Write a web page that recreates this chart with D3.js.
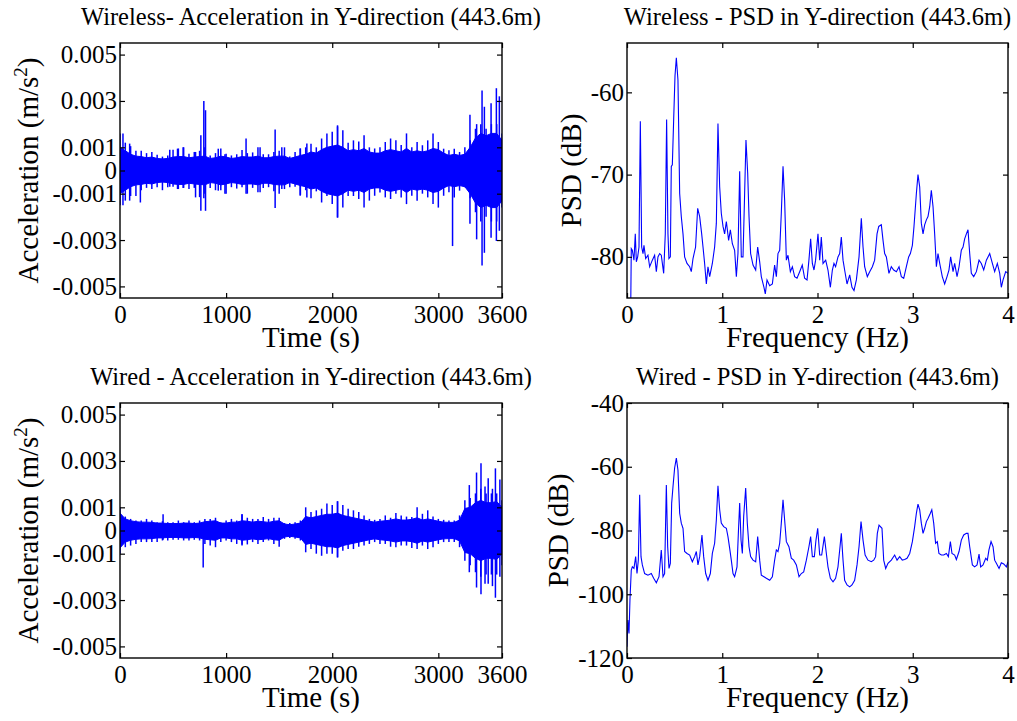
<!DOCTYPE html>
<html>
<head>
<meta charset="utf-8">
<script src="https://cdn.jsdelivr.net/npm/d3@7"></script>
<style>
  body { margin: 0; background: #fff; }
  svg text { font-family: "Liberation Serif", "Times New Roman", serif; fill: #000; }
</style>
</head>
<body>
<div id="chart"></div>
<script>
// sample times (s) for the acceleration envelopes
var accTime = [0,50,100,150,200,250,300,350,400,450,500,550,600,650,700,750,800,850,900,950,
  1000,1050,1100,1150,1200,1250,1300,1350,1400,1450,1500,1550,1600,1650,1700,1750,1800,1850,1900,1950,
  2000,2050,2100,2150,2200,2250,2300,2350,2400,2450,2500,2550,2600,2650,2700,2750,2800,2850,2900,2950,
  3000,3050,3100,3150,3200,3250,3300,3350,3400,3450,3500,3550,3600];

// all acceleration values in 1e-3 m/s^2
// half-width of the solid band
var wirelessCore = [1.0,0.85,0.7,0.62,0.6,0.55,0.58,0.52,0.5,0.52,0.58,0.6,0.6,0.55,0.58,0.6,0.62,0.52,0.55,0.62,
  0.58,0.52,0.55,0.6,0.58,0.58,0.62,0.55,0.55,0.6,0.62,0.62,0.52,0.58,0.65,0.7,0.8,0.75,0.9,1.0,
  1.05,1.1,1.0,0.85,0.9,0.85,0.95,0.8,0.75,0.75,0.85,0.9,0.85,0.8,0.95,0.8,0.85,0.8,0.85,0.95,
  0.9,0.75,0.65,0.7,0.65,0.7,1.0,1.4,1.6,1.5,1.6,1.6,1.3];
// peak excursions at each sample
var wirelessHi = [1.6,1.2,1.05,0.85,0.85,0.75,0.8,0.68,0.6,0.65,0.9,0.95,1.0,0.72,0.8,0.85,1.0,0.65,0.75,0.95,
  0.72,0.65,0.7,0.88,0.75,0.78,1.0,0.7,0.7,0.8,0.85,1.0,0.6,0.8,0.95,1.0,1.15,1.0,1.38,1.6,
  1.67,1.95,1.74,1.2,1.3,1.25,1.52,1.0,0.95,1.0,1.23,1.38,1.3,1.1,1.6,1.0,1.23,1.09,1.3,1.6,
  1.23,0.94,0.87,0.94,0.8,1.0,1.3,1.8,2.0,1.8,2.0,2.0,1.6];
var wirelessLo = [-1.5,-1.3,-1.1,-1.1,-0.85,-0.75,-0.8,-0.72,-0.85,-0.72,-0.7,-0.8,-0.75,-0.8,-0.75,-1.15,-1.0,-0.75,-0.85,-0.85,
  -1.0,-0.72,-0.78,-0.72,-1.0,-0.75,-0.94,-0.75,-0.72,-0.9,-1.0,-0.8,-0.72,-0.7,-1.05,-0.85,-1.2,-0.9,-1.38,-1.1,
  -1.45,-2.03,-1.6,-1.1,-1.1,-1.23,-1.6,-1.3,-1.09,-0.95,-1.16,-1.23,-1.0,-1.16,-1.45,-1.09,-1.3,-1.0,-1.16,-1.45,
  -1.6,-1.09,-0.94,-1.16,-0.87,-0.72,-1.2,-1.8,-2.2,-2.0,-2.2,-2.2,-1.6];
// isolated spikes: [time s, max, min]
var wirelessSpikes = [[28,1.6,-1.5],[91,1.16,-1.3],[192,0.5,-1.38],[469,0.9,-0.7],[542,0.94,-0.8],[595,1.0,-0.75],
  [712,0.8,-1.16],[762,1.52,-1.74],[790,3.0,-1.2],[806,2.6,-1.74],[926,0.94,-0.87],[989,0.7,-1.0],
  [1188,1.38,-1.0],[1320,1.0,-0.94],[1462,1.77,-1.62],[1525,1.0,-0.8],[1698,0.95,-1.09],[1761,1.16,-1.16],
  [2050,1.9,-2.03],[3134,0.5,-3.26],[3298,2.4,-2.3],[3361,2.0,-2.97],[3412,3.45,-4.1],
  [3434,2.75,-3.55],[3497,2.9,-2.9],[3547,3.55,-3.04],[3575,3.2,-2.6]];

var wiredCore = [0.75,0.5,0.42,0.38,0.36,0.36,0.35,0.32,0.32,0.3,0.3,0.3,0.32,0.32,0.3,0.32,0.38,0.4,0.42,0.32,
  0.32,0.36,0.36,0.42,0.4,0.36,0.4,0.38,0.35,0.4,0.42,0.28,0.25,0.28,0.32,0.6,0.55,0.6,0.65,0.7,
  0.7,0.75,0.65,0.6,0.55,0.5,0.45,0.4,0.36,0.4,0.42,0.45,0.5,0.45,0.45,0.48,0.55,0.45,0.5,0.45,
  0.4,0.36,0.35,0.35,0.45,0.95,1.0,1.2,1.3,1.2,1.2,1.25,1.0];
var wiredHi = [1.0,0.6,0.5,0.43,0.43,0.5,0.43,0.36,0.4,0.36,0.36,0.43,0.36,0.43,0.36,0.43,0.5,0.5,0.55,0.36,
  0.43,0.5,0.43,0.7,0.55,0.5,0.5,0.58,0.5,0.55,0.55,0.32,0.32,0.36,0.43,1.0,0.8,0.87,0.94,1.16,
  1.1,1.26,1.1,0.94,0.87,0.8,0.65,0.5,0.46,0.5,0.65,0.55,0.75,0.65,0.6,0.58,1.0,0.72,0.87,0.6,
  0.5,0.46,0.43,0.43,0.65,1.3,1.4,1.6,1.8,1.6,1.6,1.6,1.3];
var wiredLo = [-1.0,-0.72,-0.65,-0.58,-0.5,-0.5,-0.5,-0.5,-0.43,-0.43,-0.4,-0.4,-0.43,-0.43,-0.4,-0.43,-0.58,-0.65,-0.72,-0.5,
  -0.43,-0.5,-0.58,-0.65,-0.6,-0.5,-0.58,-0.5,-0.43,-0.58,-0.7,-0.36,-0.32,-0.36,-0.43,-0.94,-0.8,-1.0,-1.09,-1.0,
  -1.0,-1.16,-0.87,-0.8,-0.8,-0.7,-0.65,-0.58,-0.5,-0.58,-0.58,-0.7,-0.72,-0.65,-0.65,-0.75,-0.8,-0.65,-0.8,-0.72,
  -0.58,-0.5,-0.5,-0.5,-0.72,-1.3,-1.5,-1.8,-2.0,-1.9,-1.9,-1.9,-1.5];
var wiredSpikes = [[406,0.7,-0.4],[784,0.3,-1.6],[1150,0.7,-0.6],[2050,1.26,-1.16],[3292,1.96,-1.8],[3360,2.5,-2.46],
  [3402,2.9,-2.75],[3440,1.9,-2.3],[3470,2.25,-2.3],[3510,1.8,-2.4],[3538,2.68,-2.9],[3580,2.2,-2.0]];

// PSD curves (Hz, dB)
var wirelessFreq = [0.04,0.045,0.056,0.073,0.087,0.098,0.112,0.126,0.14,0.154,0.168,0.178,0.196,0.22,0.238,0.266,0.29,0.308,0.325,0.343,
  0.36,0.385,0.402,0.416,0.43,0.44,0.455,0.465,0.476,0.49,0.504,0.518,0.535,0.553,0.57,0.588,0.605,0.63,0.658,0.675,
  0.693,0.72,0.742,0.763,0.784,0.798,0.815,0.833,0.85,0.868,0.896,0.92,0.938,0.955,0.973,0.99,1.008,1.025,1.043,1.067,
  1.085,1.106,1.13,1.148,1.165,1.183,1.2,1.218,1.235,1.249,1.267,1.281,1.298,1.323,1.351,1.372,1.393,1.41,1.438,1.452,
  1.47,1.498,1.526,1.55,1.568,1.585,1.603,1.62,1.638,1.655,1.673,1.69,1.715,1.736,1.76,1.785,1.813,1.84,1.865,1.89,
  1.91,1.928,1.946,1.963,1.98,2.005,2.023,2.04,2.058,2.086,2.11,2.135,2.156,2.173,2.19,2.215,2.233,2.25,2.268,2.285,
  2.31,2.338,2.362,2.383,2.408,2.436,2.46,2.478,2.495,2.523,2.548,2.576,2.6,2.625,2.643,2.67,2.688,2.705,2.723,2.75,
  2.775,2.8,2.828,2.856,2.88,2.905,2.933,2.957,2.975,2.996,3.013,3.038,3.055,3.073,3.09,3.108,3.125,3.143,3.16,3.178,
  3.195,3.213,3.23,3.248,3.265,3.283,3.31,3.335,3.36,3.38,3.398,3.423,3.44,3.465,3.486,3.51,3.528,3.545,3.563,3.58,
  3.598,3.615,3.64,3.668,3.696,3.72,3.745,3.773,3.808,3.836,3.86,3.888,3.913,3.93,3.948,3.976,4.0];
var wirelessPsd = [-85,-79,-79.2,-80.4,-77.2,-80.6,-80,-78.8,-63.5,-78.8,-79.6,-78.6,-80.2,-79.8,-81.2,-80.4,-79.8,-81.8,-80,-79.6,
  -79.8,-82,-77.2,-63.3,-77.2,-80.2,-80,-69,-68.8,-63.3,-58,-55.8,-58.5,-72.3,-75.1,-77.2,-80,-80.8,-81.2,-81.8,
  -80.2,-78.8,-74.1,-75.1,-77.2,-78.8,-80.8,-83.3,-81.2,-82.4,-80.8,-78.8,-75.9,-63.8,-71.5,-74.7,-76.3,-77.2,-75.7,-78,
  -76.7,-78.4,-79.2,-82.4,-79.6,-69.6,-80,-80,-72.3,-65.8,-69.8,-75.1,-79.6,-81,-81.6,-78.8,-80.6,-82.4,-83.7,-84.5,
  -82.8,-83.5,-83.3,-81,-82.4,-79.6,-79.2,-74.7,-69,-73.1,-80.4,-79.8,-81.8,-81.2,-82.4,-82.6,-81.8,-81,-82.6,-82.8,
  -80.4,-77.8,-80.8,-81.6,-80.4,-77.2,-80.4,-77.6,-80.8,-80.4,-81.6,-83.7,-81.6,-80.8,-81.2,-80,-79.6,-77.6,-80.4,-81.6,
  -83.3,-82.2,-83.7,-84.1,-82.8,-80,-75.3,-78.8,-81.2,-82.4,-81.8,-81.2,-80.4,-77.2,-76.3,-76.1,-78,-79.6,-80,-82,
  -81.2,-81.6,-81.8,-81.2,-82.4,-82.6,-81.2,-80,-79.6,-78.6,-76.3,-72.3,-70,-71.5,-75.9,-77.2,-76.1,-75.5,-75.1,-73.9,
  -71.9,-73.9,-77.2,-81.2,-79.6,-80.8,-82.4,-83.3,-82.4,-81.6,-80,-81.8,-80.8,-82.4,-81.2,-79.2,-78.8,-77.8,-77.2,-76.7,
  -79.6,-82,-82.4,-81.8,-80.4,-80.8,-81.6,-80.4,-79.6,-80.8,-81.8,-80.8,-82,-83.7,-82.8,-81.8,-82];

var wiredFreq = [0,0.01,0.021,0.031,0.045,0.056,0.073,0.091,0.105,0.119,0.133,0.147,0.161,0.185,0.22,0.255,0.28,0.308,0.336,0.36,
  0.378,0.395,0.413,0.427,0.441,0.455,0.469,0.483,0.5,0.518,0.535,0.553,0.57,0.588,0.605,0.63,0.658,0.686,0.71,0.728,
  0.745,0.763,0.787,0.805,0.826,0.85,0.875,0.896,0.92,0.938,0.955,0.973,0.99,1.015,1.043,1.06,1.078,1.095,1.113,1.13,
  1.155,1.169,1.183,1.197,1.211,1.225,1.246,1.263,1.281,1.298,1.323,1.351,1.372,1.393,1.41,1.438,1.463,1.498,1.526,1.55,
  1.568,1.585,1.603,1.62,1.638,1.655,1.673,1.7,1.725,1.75,1.778,1.806,1.83,1.855,1.883,1.91,1.928,1.946,1.967,1.984,
  2.002,2.023,2.044,2.072,2.093,2.11,2.135,2.163,2.19,2.215,2.233,2.25,2.268,2.285,2.31,2.338,2.362,2.39,2.415,2.436,
  2.457,2.478,2.5,2.53,2.565,2.59,2.61,2.628,2.646,2.677,2.695,2.716,2.74,2.775,2.81,2.835,2.863,2.89,2.915,2.94,
  2.968,2.996,3.02,3.038,3.055,3.073,3.09,3.108,3.125,3.143,3.16,3.185,3.2,3.22,3.24,3.258,3.275,3.3,3.325,3.353,
  3.374,3.395,3.412,3.44,3.458,3.486,3.51,3.535,3.563,3.58,3.598,3.626,3.65,3.675,3.696,3.713,3.738,3.766,3.783,3.8,
  3.822,3.843,3.86,3.878,3.906,3.93,3.955,3.983,4.0];
var wiredPsd = [-116.5,-108.1,-112.3,-101.8,-92.4,-91.4,-91.9,-88.2,-93.5,-89.3,-68.8,-88.2,-90.8,-93.5,-94,-93.5,-95,-96.4,-94.5,-86.1,
  -94.5,-93.5,-65.7,-85.1,-91.9,-90.3,-71.4,-66.2,-60.4,-57.3,-61,-74.6,-77.7,-79.3,-86.6,-87.2,-87.7,-89.8,-88.2,-86.6,
  -90.8,-88.2,-81.4,-88.2,-93.5,-95.6,-93.5,-87.2,-84,-76.7,-66,-73.5,-77.7,-78.8,-79.3,-81.9,-85.6,-89.3,-93.5,-94.5,
  -91.4,-80.9,-71.4,-83,-87.2,-75.6,-66.7,-77.7,-85.1,-88.2,-89.3,-89.8,-81.9,-89.3,-94,-94.5,-95,-95.6,-94.5,-89.3,
  -86.1,-86.6,-84,-77.7,-70.4,-76.7,-83.5,-85.1,-88.7,-89.3,-90.8,-94.5,-93.5,-93,-89.3,-85.1,-81.9,-88.2,-88.2,-83,
  -79.3,-87.7,-87.7,-81.9,-87.2,-91.4,-95,-96.1,-95,-91.4,-86.1,-80.9,-89.3,-95.6,-97.1,-97.7,-97.1,-95.6,-90.8,-85.1,
  -77.2,-83,-87.7,-89.3,-89.8,-89.3,-88.2,-80.9,-78.3,-79.3,-89.3,-91.9,-90.3,-89.3,-87.7,-89.3,-88.2,-89.3,-89.1,-88.7,
  -87.2,-83.5,-78.8,-74.6,-71.7,-73.5,-77.7,-80.9,-79.3,-77.2,-76.2,-74.6,-73.5,-77.7,-84,-83.5,-87.2,-87.7,-87.7,-87.2,
  -88.2,-83.5,-87.2,-87.7,-89.1,-86.6,-83,-81.4,-80.9,-80.9,-85.1,-90.8,-91.4,-90.8,-87.4,-91.4,-90.8,-88.7,-89.3,-86.1,
  -83.5,-85.1,-89.3,-90.3,-91.9,-90.1,-90.5,-91.4,-89.8];

var accTicks = [-0.005, -0.003, -0.001, 0, 0.001, 0.003, 0.005];
var timeTicks = [0, 1000, 2000, 3000, 3600];
var freqTicks = [0, 1, 2, 3, 4];
var psdTicksTop = [-80, -70, -60];
var psdTicksBottom = [-120, -100, -80, -60, -40];

var svgWidth = 1017, svgHeight = 721;
var blue = "#0000ff";

var svg = d3.select("#chart").append("svg")
    .attr("width", svgWidth)
    .attr("height", svgHeight);

var clipId = 0;

// box, inside ticks on all four sides, tick labels, title and x label
function frame(g, x, y, w, h, xTicks, yTicks, yFmt, title, xLabel) {
    var tick = 5;
    g.append("g").attr("transform", `translate(0,${h})`)
        .call(d3.axisBottom(x).tickValues(xTicks).tickSize(-tick).tickPadding(7).tickFormat(v => String(v)))
        .call(s => s.select(".domain").remove());
    g.append("g")
        .call(d3.axisTop(x).tickValues(xTicks).tickSize(-tick).tickFormat(""))
        .call(s => s.select(".domain").remove());
    g.append("g")
        .call(d3.axisLeft(y).tickValues(yTicks).tickSize(-tick).tickPadding(3).tickFormat(yFmt))
        .call(s => s.select(".domain").remove());
    g.append("g").attr("transform", `translate(${w},0)`)
        .call(d3.axisRight(y).tickValues(yTicks).tickSize(-tick).tickFormat(""))
        .call(s => s.select(".domain").remove());

    g.selectAll(".tick line").attr("stroke", "#000").attr("stroke-width", 1.2);
    g.selectAll(".tick text")
        .style("font-size", "25px")
        .attr("fill", "#000");

    g.append("rect")
        .attr("width", w).attr("height", h)
        .attr("fill", "none").attr("stroke", "#000").attr("stroke-width", 1.4);

    g.append("text")
        .attr("x", w / 2).attr("y", -18)
        .attr("text-anchor", "middle")
        .style("font-size", "24.5px")
        .text(title);

    g.append("text")
        .attr("x", w / 2).attr("y", h + 49)
        .attr("text-anchor", "middle")
        .style("font-size", "29px")
        .text(xLabel);
}

function clip(g, w, h) {
    var id = "clip" + (clipId++);
    g.append("clipPath").attr("id", id)
        .append("rect").attr("width", w).attr("height", h);
    return g.append("g").attr("clip-path", `url(#${id})`);
}

function accPanel(left, top, title, core, hi, lo, spikes) {
    var w = 382, h = 255;
    var g = svg.append("g").attr("transform", `translate(${left},${top})`);
    var x = d3.scaleLinear().domain([0, 3600]).range([0, w]);
    var y = d3.scaleLinear().domain([-0.0055, 0.0055]).range([h, 0]);

    var plot = clip(g, w, h);
    var rows = accTime.map((t, i) => ({t: t, core: core[i] / 1000, hi: hi[i] / 1000, lo: lo[i] / 1000}));

    // solid part of the signal
    plot.append("path")
        .datum(rows)
        .attr("fill", blue)
        .attr("stroke", blue)
        .attr("stroke-width", 1)
        .attr("d", d3.area().x(d => x(d.t)).y0(d => y(-d.core)).y1(d => y(d.core)));

    // peaks at every sample, then isolated spikes
    var peaks = rows.map(d => [d.t, d.hi, d.lo])
        .concat(spikes.map(s => [s[0], s[1] / 1000, s[2] / 1000]));
    plot.selectAll("line.peak")
        .data(peaks)
        .enter().append("line")
        .attr("class", "peak")
        .attr("x1", d => x(d[0])).attr("x2", d => x(d[0]))
        .attr("y1", d => y(d[1])).attr("y2", d => y(d[2]))
        .attr("stroke", blue).attr("stroke-width", 1.5);

    frame(g, x, y, w, h, timeTicks, accTicks,
        v => v === 0 ? "0" : v.toFixed(3), title, "Time (s)");

    var lab = g.append("text")
        .attr("transform", `translate(-82,${h / 2}) rotate(-90)`)
        .attr("text-anchor", "middle")
        .style("font-size", "29px");
    lab.append("tspan").text("Acceleration (m/s");
    lab.append("tspan").attr("dy", -11).style("font-size", "19px").text("2");
    lab.append("tspan").attr("dy", 11).text(")");
}

function psdPanel(left, top, title, freq, psd, domain, ticks, labelX) {
    var w = 381, h = 255;
    var g = svg.append("g").attr("transform", `translate(${left},${top})`);
    var x = d3.scaleLinear().domain([0, 4]).range([0, w]);
    var y = d3.scaleLinear().domain(domain).range([h, 0]);

    var plot = clip(g, w, h);
    plot.append("path")
        .datum(freq.map((f, i) => [f, psd[i]]))
        .attr("fill", "none")
        .attr("stroke", blue)
        .attr("stroke-width", 1.1)
        .attr("d", d3.line().x(d => x(d[0])).y(d => y(d[1])));

    frame(g, x, y, w, h, freqTicks, ticks, v => String(v), title, "Frequency (Hz)");

    g.append("text")
        .attr("transform", `translate(${labelX},${h / 2}) rotate(-90)`)
        .attr("text-anchor", "middle")
        .attr("dy", "0.35em")
        .style("font-size", "29px")
        .text("PSD (dB)");
}

accPanel(120, 43, "Wireless- Acceleration in Y-direction (443.6m)", wirelessCore, wirelessHi, wirelessLo, wirelessSpikes);
psdPanel(627, 43, "Wireless - PSD in Y-direction (443.6m)", wirelessFreq, wirelessPsd, [-85, -54], psdTicksTop, -56);
accPanel(120, 403, "Wired - Acceleration in Y-direction (443.6m)", wiredCore, wiredHi, wiredLo, wiredSpikes);
psdPanel(627, 403, "Wired - PSD in Y-direction (443.6m)", wiredFreq, wiredPsd, [-120, -40], psdTicksBottom, -69);
</script>
</body>
</html>
